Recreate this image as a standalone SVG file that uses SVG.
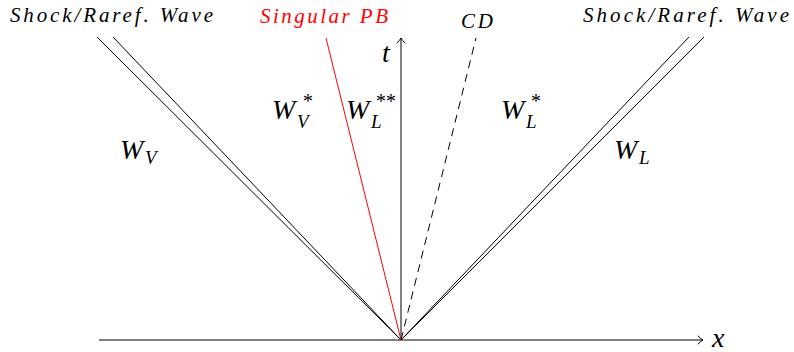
<svg xmlns="http://www.w3.org/2000/svg" width="794" height="352" viewBox="0 0 794 352">
<defs>
<marker id="arr" viewBox="-6 -5 8 10" refX="0" refY="0" markerWidth="8" markerHeight="10" markerUnits="userSpaceOnUse" orient="auto">
<path d="M-5,-4 Q-2,-1 0,0 Q-2,1 -5,4" fill="none" stroke="#000" stroke-width="1" stroke-linecap="round"/>
</marker>
</defs>
<style>
.ln{stroke:#000;stroke-width:1;fill:none}
.lab{font-family:"Liberation Serif",serif;font-style:italic;fill:#000}
.w{font-size:28px}
.sub{font-size:19px}
.sup{font-size:20px}
.hd{font-size:21px}
</style>
<rect width="794" height="352" fill="#fff"/>
<g id="connectors">
<line class="ln" x1="99" y1="340" x2="703" y2="340" marker-end="url(#arr)"/>
<line class="ln" x1="401" y1="340" x2="401" y2="38" marker-end="url(#arr)"/>
<line class="ln" x1="401" y1="340" x2="97" y2="37"/>
<line class="ln" x1="401" y1="340" x2="113" y2="37"/>
<line class="ln" x1="401" y1="340" x2="689" y2="37"/>
<line class="ln" x1="401" y1="340" x2="704" y2="37"/>
<line x1="401" y1="340" x2="326" y2="38" stroke="#ff0000" stroke-width="1"/>
<line class="ln" x1="401" y1="340" x2="476" y2="38" stroke-dasharray="8,6"/>
</g>
<g id="labels">
<text class="lab hd" x="10" y="22" textLength="203" lengthAdjust="spacing">Shock/Raref.  Wave</text>
<text class="lab hd" x="583" y="22" textLength="206" lengthAdjust="spacing">Shock/Raref.  Wave</text>
<text class="lab hd" x="260" y="23" style="fill:#ff0000" textLength="128" lengthAdjust="spacing">Singular PB</text>
<text class="lab hd" x="461" y="28" textLength="32" lengthAdjust="spacing">CD</text>
<text class="lab w" x="382" y="62">t</text>
<text class="lab w" x="712" y="347">x</text>
<g id="WV"><text class="lab w" x="120" y="159">W</text><text class="lab sub" x="145" y="164">V</text></g>
<g id="WVs"><text class="lab w" x="272" y="119">W</text><text class="lab sup" x="302" y="108">*</text><text class="lab sub" x="297" y="128">V</text></g>
<g id="WLss"><text class="lab w" x="346" y="119">W</text><text class="lab sup" x="375" y="108">**</text><text class="lab sub" x="371" y="128">L</text></g>
<g id="WLs"><text class="lab w" x="501" y="119">W</text><text class="lab sup" x="530" y="108">*</text><text class="lab sub" x="526" y="128">L</text></g>
<g id="WL"><text class="lab w" x="614" y="159">W</text><text class="lab sub" x="639" y="164">L</text></g>
</g>
</svg>
